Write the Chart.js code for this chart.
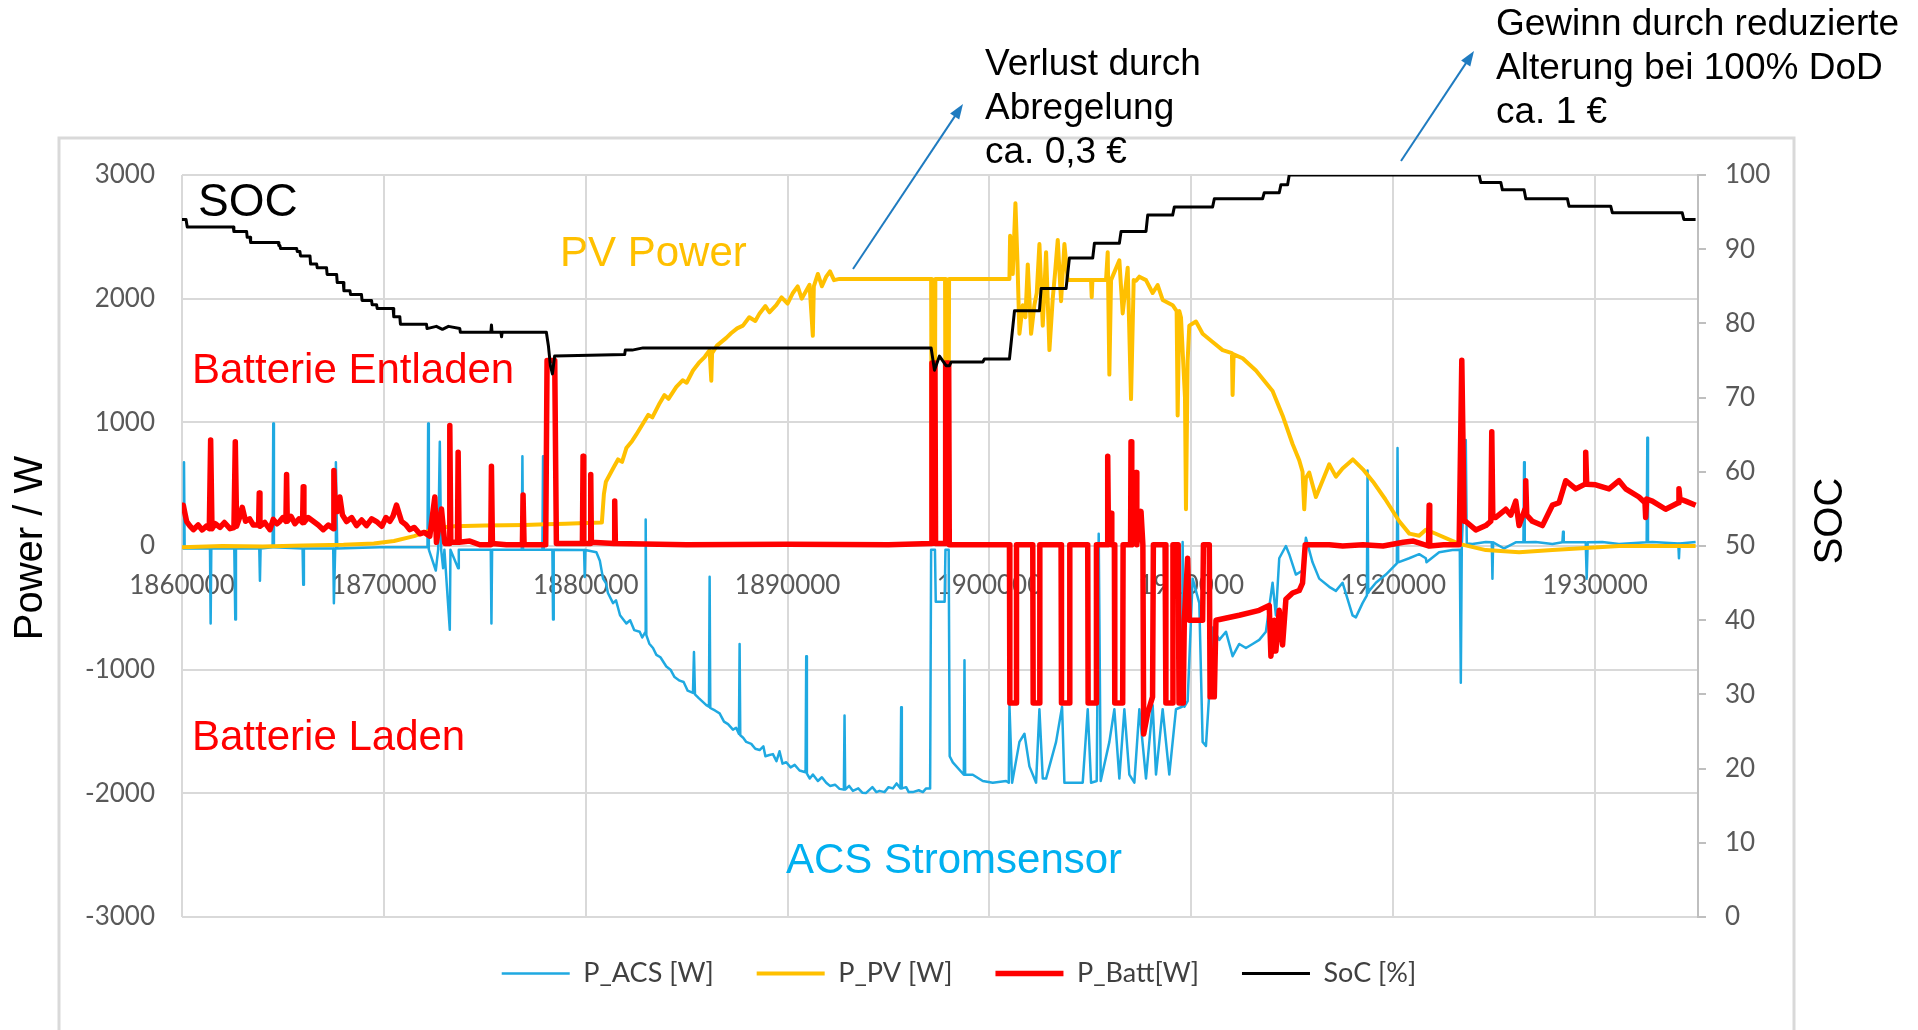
<!DOCTYPE html>
<html>
<head>
<meta charset="utf-8">
<script src="https://cdn.jsdelivr.net/npm/chart.js@4.4.0/dist/chart.umd.min.js"></script>
<style>
  html, body { margin: 0; padding: 0; background: #fff; }
  canvas { display: block; }
</style>
</head>
<body>
<canvas id="chart" width="1918" height="1030"></canvas>
<script>
// axis ticks
const timeTicks = [1860000, 1870000, 1880000, 1890000, 1900000, 1910000, 1920000, 1930000];
const powerTicks = [-3000, -2000, -1000, 0, 1000, 2000, 3000];
const socTicks = [0, 10, 20, 30, 40, 50, 60, 70, 80, 90, 100];

// [time, W]
const acsPoints = [
  [1860000, 0], [1860066, -20], [1860099, 677], [1860132, -20], [1861386, -20], [1861419, -627], [1861452, -20],
  [1862590, -20], [1862640, -594], [1862673, -20], [1863828, -20], [1863861, -281], [1863894, -20],
  [1864488, -10], [1864521, 990], [1864554, -10], [1865973, -20], [1866006, -314], [1866039, -20],
  [1867491, -20], [1867524, -462], [1867590, -20], [1867623, 677], [1867689, -20], [1869801, -10],
  [1872161, -10], [1872194, 990], [1872227, -30], [1872573, -198], [1872689, -30], [1872771, 842], [1872837, -30],
  [1872936, -180], [1873000, -30], [1873266, -677], [1873299, -30], [1873679, -180], [1873712, -30],
  [1875296, -30], [1875329, -627], [1875362, -30], [1876830, -30], [1876863, 726], [1876896, -30],
  [1877853, -30], [1877886, 726], [1877919, -30], [1878348, -30], [1878381, -594], [1878414, -30],
  [1879918, -33], [1879950, -250], [1879983, -33], [1880528, -50], [1880700, -120], [1880858, -264],
  [1881000, -300], [1881100, -380], [1881353, -462], [1881500, -440], [1881700, -560], [1882013, -627],
  [1882200, -600], [1882400, -680], [1882673, -693], [1882800, -740], [1882937, -700], [1882970, 215],
  [1883003, -720], [1883150, -790], [1883333, -825], [1883500, -880], [1883700, -900], [1883993, -974],
  [1884200, -1000], [1884400, -1060], [1884653, -1089], [1884850, -1100], [1885050, -1170], [1885313, -1188],
  [1885362, -858], [1885412, -1200], [1885600, -1230], [1885800, -1260], [1885973, -1287], [1886105, -1300],
  [1886138, -248], [1886171, -1310], [1886400, -1330], [1886633, -1353], [1886850, -1420], [1887050, -1440],
  [1887293, -1485], [1887450, -1470], [1887590, -1520], [1887623, -792], [1887656, -1530], [1887800, -1550],
  [1887953, -1584], [1888200, -1600], [1888400, -1640], [1888613, -1650], [1888800, -1620], [1888900, -1700],
  [1889100, -1690], [1889273, -1683], [1889450, -1740], [1889600, -1660], [1889750, -1760], [1889933, -1749],
  [1890150, -1790], [1890350, -1770], [1890593, -1815], [1890890, -1830], [1890923, -891], [1890956, -1840],
  [1891100, -1880], [1891253, -1848], [1891500, -1900], [1891700, -1870], [1891913, -1914], [1892100, -1940],
  [1892350, -1930], [1892573, -1964], [1892788, -1970], [1892821, -1370], [1892854, -1970], [1893050, -1940],
  [1893233, -1980], [1893500, -1960], [1893700, -1995], [1893893, -1997], [1894200, -1950], [1894400, -1990],
  [1894553, -1980], [1894800, -1990], [1895000, -1950], [1895213, -1960], [1895400, -1920], [1895593, -1960],
  [1895626, -1304], [1895659, -1960], [1895873, -1950], [1896000, -1990], [1896203, -1990], [1896500, -1975],
  [1896700, -1990], [1896863, -1960], [1897061, -1960], [1897110, -30], [1897300, -30], [1897340, -450],
  [1897780, -450], [1897820, -30], [1897980, -30], [1898030, -1700], [1898185, -1750], [1898730, -1850],
  [1898763, -924], [1898796, -1850], [1899175, -1850], [1899670, -1900], [1900165, -1914], [1900825, -1900],
  [1900957, -1914], [1900990, -1287], [1901122, -1914], [1901485, -1584], [1901733, -1518], [1901980, -1782],
  [1902310, -1914], [1902475, -1320], [1902640, -1880], [1902805, -1881], [1903300, -1584], [1903597, -1300],
  [1903713, -1914], [1904125, -1914], [1904620, -1914], [1904868, -1320], [1905033, -1914], [1905313, -1900],
  [1905412, 99], [1905511, -1900], [1905940, -1584], [1906188, -1320], [1906435, -1881], [1906683, -1320],
  [1906930, -1848], [1907178, -1914], [1907425, -1320], [1907755, -1881], [1908085, -1287], [1908250, -1848],
  [1908580, -1320], [1908910, -1848], [1909240, -1320], [1909537, -1300], [1909570, 33], [1909653, -1300],
  [1909818, -1254], [1910065, -264], [1910395, -462], [1910560, -1584], [1910725, -1617], [1910890, -1188],
  [1911055, -660], [1911385, -759], [1911715, -693], [1912045, -891], [1912375, -792], [1912705, -825],
  [1913035, -792], [1913365, -759], [1913695, -693], [1914025, -297], [1914190, -561], [1914355, -99],
  [1914685, 0], [1914850, -66], [1915180, -231], [1915510, -198], [1915675, 66], [1916005, -132],
  [1916335, -264], [1916832, -330], [1917162, -363], [1917492, -297], [1917987, -561], [1918152, -577],
  [1918482, -462], [1918697, -400], [1918730, 610], [1918763, -380], [1918812, -363], [1919142, -297],
  [1919637, -231], [1920182, -140], [1920215, 792], [1920248, -132], [1920792, -99], [1921287, -66],
  [1921617, -99], [1921650, -132], [1922277, -50], [1922937, -33], [1923300, -30], [1923350, -1106],
  [1923399, 0], [1923597, 858], [1923646, 20], [1923927, 17], [1924587, 33], [1924884, 30], [1924917, -264],
  [1924950, 30], [1925495, -20], [1926072, 30], [1926452, 30], [1926485, 677], [1926518, 30], [1927062, 33],
  [1927887, 17], [1928382, 30], [1928415, 116], [1928448, 30], [1929537, 30], [1929587, -264], [1929636, 30],
  [1930362, 33], [1931187, 17], [1932557, 30], [1932590, 875], [1932623, 30], [1932837, 33], [1934124, 20],
  [1934157, -99], [1934190, 20], [1934982, 33]
];

const pvPoints = [
  [1860000, -10], [1862000, 0], [1864000, -5], [1866000, 5], [1868000, 10], [1869500, 20], [1870500, 40],
  [1871500, 80], [1872200, 120], [1872800, 150], [1873500, 160], [1875000, 165], [1877000, 170], [1878000, 175],
  [1879000, 180], [1880000, 185], [1880800, 190], [1880900, 420], [1881000, 520], [1881353, 627], [1881600, 700],
  [1881800, 680], [1882013, 792], [1882300, 850], [1882500, 900], [1882838, 990], [1883100, 1060], [1883300, 1040],
  [1883663, 1155], [1883900, 1220], [1884100, 1190], [1884488, 1287], [1884800, 1340], [1885000, 1320],
  [1885313, 1419], [1885600, 1480], [1885900, 1530], [1886138, 1584], [1886220, 1337], [1886260, 1560],
  [1886500, 1620], [1886963, 1683], [1887200, 1720], [1887500, 1760], [1887788, 1782], [1888100, 1850],
  [1888400, 1820], [1888613, 1881], [1888900, 1940], [1889100, 1890], [1889438, 1947], [1889700, 2010],
  [1890000, 1960], [1890263, 2046], [1890500, 2100], [1890700, 2000], [1891088, 2112], [1891250, 1700],
  [1891300, 2100], [1891500, 2200], [1891700, 2100], [1891913, 2178], [1892100, 2220], [1892300, 2150],
  [1892573, 2160], [1897110, 2160], [1897150, 100], [1897280, 100], [1897320, 2160], [1897800, 2160],
  [1897840, 100], [1897960, 100], [1898000, 2160], [1900990, 2160], [1901023, 2508], [1901155, 2200],
  [1901287, 2772], [1901386, 2300], [1901485, 1716], [1901650, 1947], [1901782, 1850], [1901898, 2277],
  [1902063, 1716], [1902228, 1950], [1902343, 2046], [1902475, 2442], [1902640, 1782], [1902805, 2376],
  [1902970, 1584], [1903135, 2000], [1903251, 2211], [1903383, 2475], [1903548, 1980], [1903713, 2442],
  [1903878, 2150], [1905033, 2150], [1905066, 2013], [1905100, 2150], [1905775, 2150], [1905858, 2376],
  [1905940, 1386], [1906023, 2150], [1906435, 2310], [1906600, 1881], [1906848, 2250], [1907013, 1188],
  [1907145, 2150], [1907260, 2145], [1907425, 2178], [1907755, 2150], [1908085, 2046], [1908333, 2110],
  [1908580, 1990], [1909075, 1947], [1909273, 1900], [1909323, 1056], [1909405, 1900], [1909488, 1848],
  [1909686, 1200], [1909735, 297], [1909818, 1500], [1909900, 1782], [1910230, 1815], [1910560, 1716],
  [1911055, 1650], [1911550, 1584], [1912012, 1560], [1912045, 1221], [1912095, 1550], [1912540, 1518],
  [1913200, 1419], [1914025, 1254], [1914520, 1056], [1915015, 825], [1915345, 693], [1915510, 600],
  [1915593, 297], [1915675, 550], [1915840, 594], [1916170, 396], [1916500, 528], [1916832, 660],
  [1917162, 561], [1917492, 627], [1918000, 700], [1918500, 620], [1919000, 520], [1919600, 380],
  [1920300, 200], [1920800, 100], [1921287, 83], [1921617, 132], [1922112, 99], [1923267, 17],
  [1924587, -33], [1926237, -50], [1927887, -33], [1929537, -17], [1931187, 0], [1934982, 0]
];

const battPoints = [
  [1860000, 330], [1860066, 330], [1860150, 260], [1860231, 198], [1860400, 160], [1860561, 132], [1860800, 170],
  [1861000, 130], [1861200, 160], [1861353, 140], [1861419, 858], [1861485, 140], [1861650, 180], [1861881, 150],
  [1862100, 190], [1862376, 140], [1862574, 149], [1862640, 842], [1862706, 160], [1862850, 230], [1862986, 313],
  [1863150, 200], [1863350, 220], [1863531, 170], [1863795, 170], [1863828, 429], [1863861, 160], [1864100, 190],
  [1864356, 132], [1864521, 215], [1864700, 180], [1864851, 200], [1865000, 230], [1865148, 200], [1865181, 578],
  [1865214, 200], [1865400, 240], [1865594, 180], [1865800, 220], [1865973, 190], [1866006, 479], [1866039, 190],
  [1866250, 230], [1866501, 200], [1866750, 170], [1866996, 132], [1867250, 170], [1867491, 140], [1867524, 611],
  [1867590, 300], [1867700, 280], [1867821, 396], [1867950, 250], [1868151, 198], [1868400, 230], [1868646, 165],
  [1868900, 210], [1869141, 165], [1869400, 220], [1869636, 198], [1869900, 160], [1870100, 230], [1870296, 200],
  [1870450, 240], [1870626, 330], [1870874, 200], [1871100, 170], [1871286, 132], [1871500, 150], [1871781, 99],
  [1872000, 110], [1872276, 80], [1872524, 396], [1872606, 30], [1872854, 300], [1873019, 20], [1873233, 20],
  [1873266, 974], [1873316, 30], [1873646, 30], [1873679, 759], [1873729, 30], [1874256, 40], [1874751, 10],
  [1875296, 10], [1875329, 644], [1875378, 20], [1876071, 10], [1876863, 10], [1876896, 413], [1876946, 10],
  [1878018, 10], [1878084, 1500], [1878464, 1500], [1878546, 20], [1879835, 20], [1879868, 726], [1879901, 20],
  [1880215, 20], [1880248, 578], [1880281, 30], [1881403, 20], [1881436, 363], [1881469, 20], [1885000, 10],
  [1890000, 15], [1895000, 10], [1897110, 20], [1897150, 1480], [1897300, 1480], [1897330, 20], [1897800, 20],
  [1897830, 1480], [1897980, 1480], [1898010, 10], [1900990, 10], [1901010, -1270], [1901320, -1270],
  [1901340, 10], [1902145, 10], [1902165, -1270], [1902475, -1270], [1902495, 10], [1903548, 10],
  [1903568, -1270], [1903960, -1270], [1903980, 10], [1904868, 10], [1904888, -1270], [1905280, -1270],
  [1905300, 10], [1905830, 10], [1905858, 726], [1905900, 10], [1906023, 264], [1906060, 10], [1906188, 10],
  [1906208, -1270], [1906600, -1270], [1906620, 10], [1906990, 10], [1907013, 842], [1907050, 10],
  [1907260, 594], [1907300, 10], [1907508, 280], [1907600, 10], [1907640, -1520], [1907840, -1350],
  [1908080, -1220], [1908120, 10], [1908700, 10], [1908740, -1270], [1909050, -1270], [1909090, 10],
  [1909350, 10], [1909390, -1270], [1909600, -1270], [1909653, -600], [1909818, -100], [1909900, -600],
  [1910560, -600], [1910600, 10], [1910890, 10], [1910930, -1220], [1911138, -1220], [1911220, -600],
  [1912375, -560], [1913365, -520], [1913860, -480], [1913943, -891], [1914108, -600], [1914190, -850],
  [1914355, -520], [1914520, -800], [1914685, -430], [1915015, -380], [1915345, -360], [1915510, -300],
  [1915642, 10], [1916830, 10], [1917500, 0], [1918500, 10], [1919500, 0], [1920500, 30], [1921000, 40],
  [1921750, 0], [1921782, 330], [1921810, 0], [1922500, 10], [1923267, 10], [1923399, 1502], [1923515, 200],
  [1923597, 198], [1924092, 130], [1924587, 165], [1924836, 200], [1924884, 924], [1924935, 230],
  [1925082, 231], [1925577, 297], [1925825, 250], [1926072, 363], [1926237, 165], [1926534, 300],
  [1926567, 528], [1926616, 250], [1926897, 200], [1927392, 165], [1927887, 330], [1928217, 350],
  [1928547, 528], [1929042, 462], [1929504, 500], [1929537, 759], [1929587, 500], [1930032, 495],
  [1930692, 462], [1931187, 528], [1931517, 462], [1932177, 396], [1932474, 350], [1932507, 231],
  [1932557, 380], [1932837, 363], [1933497, 297], [1934124, 350], [1934157, 462], [1934206, 380],
  [1934487, 363], [1934982, 330]
];

// [time, %]
const socPoints = [
  [1860000, 94.0], [1860200, 94.0], [1860260, 93.0], [1862540, 93.0], [1862570, 92.4], [1863200, 92.4],
  [1863230, 91.6], [1863370, 91.6], [1863400, 90.9], [1864770, 90.9], [1864800, 90.5], [1864850, 90.5],
  [1864880, 90.1], [1865680, 90.1], [1865710, 89.7], [1865840, 89.7], [1865870, 89.1], [1866340, 89.1],
  [1866370, 88.0], [1866670, 88.0], [1866700, 87.5], [1867160, 87.5], [1867190, 86.6], [1867660, 86.6],
  [1867690, 85.5], [1867990, 85.5], [1868020, 84.4], [1868320, 84.4], [1868350, 83.9], [1868890, 83.9],
  [1868920, 83.1], [1869390, 83.1], [1869420, 82.5], [1869640, 82.5], [1869670, 82.0], [1870460, 82.0],
  [1870490, 80.9], [1870790, 80.9], [1870820, 79.9], [1872110, 79.9], [1872140, 79.3], [1872600, 79.6],
  [1872900, 79.2], [1873200, 79.6], [1873760, 79.3], [1873790, 78.8], [1875300, 78.8], [1875330, 79.8],
  [1875360, 78.8], [1875800, 78.8], [1875830, 78.2], [1875860, 78.8], [1878050, 78.8], [1878150, 77.0],
  [1878250, 74.3], [1878350, 73.2], [1878460, 75.6], [1881930, 75.8], [1881960, 76.4], [1882300, 76.4],
  [1882838, 76.7], [1897110, 76.7], [1897276, 73.7], [1897523, 75.6], [1897853, 74.3], [1898020, 74.3],
  [1898100, 74.8], [1899670, 74.8], [1899750, 75.2], [1900990, 75.2], [1901240, 81.7], [1902475, 81.7],
  [1902560, 84.7], [1903795, 84.7], [1903960, 88.8], [1905115, 88.8], [1905200, 90.8], [1906435, 90.8],
  [1906520, 92.4], [1907755, 92.4], [1907840, 94.6], [1909075, 94.6], [1909160, 95.7], [1911055, 95.7],
  [1911140, 96.8], [1913530, 96.8], [1913610, 97.6], [1914355, 97.6], [1914440, 98.7], [1914770, 98.7],
  [1914850, 100], [1924257, 100], [1924340, 99.0], [1925330, 99.0], [1925410, 98.0], [1926485, 98.0],
  [1926570, 96.8], [1928630, 96.8], [1928710, 95.8], [1930775, 95.8], [1930860, 94.9], [1934320, 94.9],
  [1934400, 94.0], [1934980, 94.0]
];

const toXY = (points) => points.map(([x, y]) => ({ x, y }));
const tickFont = { family: 'Lato', size: 26 };
const grey = '#595959';

const annotations = {
  id: 'annotations',
  beforeDraw(chart) {
    const ctx = chart.ctx;
    ctx.save();
    ctx.fillStyle = '#fff';
    ctx.fillRect(0, 0, chart.width, chart.height);
    ctx.strokeStyle = '#D9D9D9';
    ctx.lineWidth = 3;
    ctx.strokeRect(59, 138, 1735, 960);
    ctx.restore();
  },
  afterDraw(chart) {
    const ctx = chart.ctx;
    const text = (str, x, y, size, color) => {
      ctx.font = size + 'px "Liberation Sans", Arial, sans-serif';
      ctx.fillStyle = color;
      ctx.fillText(str, x, y);
    };
    ctx.save();
    ctx.textBaseline = 'middle';
    ctx.textAlign = 'left';

    text('SOC', 198, 203, 46, '#000');
    text('PV Power', 560, 254, 42, '#FFC000');
    text('Batterie Entladen', 192, 371, 42, '#FF0000');
    text('Batterie Laden', 192, 738, 42, '#FF0000');
    text('ACS Stromsensor', 786, 861, 42, '#00B0F0');

    text('Verlust durch', 985, 65, 37, '#000');
    text('Abregelung', 985, 109, 37, '#000');
    text('ca. 0,3 €', 985, 153, 37, '#000');
    text('Gewinn durch reduzierte', 1496, 25, 37, '#000');
    text('Alterung bei 100% DoD', 1496, 69, 37, '#000');
    text('ca. 1 €', 1496, 113, 37, '#000');

    // axis titles
    ctx.textAlign = 'center';
    ctx.save();
    ctx.translate(31, 548);
    ctx.rotate(-Math.PI / 2);
    text('Power / W', 0, 0, 40, '#000');
    ctx.restore();
    ctx.save();
    ctx.translate(1831, 521);
    ctx.rotate(-Math.PI / 2);
    text('SOC', 0, 0, 40, '#000');
    ctx.restore();

    // arrows
    const arrow = (x1, y1, x2, y2) => {
      const a = Math.atan2(y2 - y1, x2 - x1);
      ctx.strokeStyle = '#1F7BC0';
      ctx.fillStyle = '#1F7BC0';
      ctx.lineWidth = 2;
      ctx.beginPath();
      ctx.moveTo(x1, y1);
      ctx.lineTo(x2 - 10 * Math.cos(a), y2 - 10 * Math.sin(a));
      ctx.stroke();
      ctx.beginPath();
      ctx.moveTo(x2, y2);
      ctx.lineTo(x2 - 16 * Math.cos(a - 0.35), y2 - 16 * Math.sin(a - 0.35));
      ctx.lineTo(x2 - 16 * Math.cos(a + 0.35), y2 - 16 * Math.sin(a + 0.35));
      ctx.closePath();
      ctx.fill();
    };
    arrow(853, 269, 963, 104);
    arrow(1401, 161, 1474, 51);
    ctx.restore();
  }
};

new Chart(document.getElementById('chart').getContext('2d'), {
  type: 'line',
  data: {
    datasets: [{
      label: 'P_ACS [W]',
      data: toXY(acsPoints),
      yAxisID: 'y',
      borderColor: '#1FA9E1',
      borderWidth: 2.5,
      order: 4
    }, {
      label: 'P_PV [W]',
      data: toXY(pvPoints),
      yAxisID: 'y',
      borderColor: '#FFC000',
      borderWidth: 4,
      order: 3
    }, {
      label: 'P_Batt[W]',
      data: toXY(battPoints),
      yAxisID: 'y',
      borderColor: '#FF0000',
      borderWidth: 5.5,
      order: 2
    }, {
      label: 'SoC [%]',
      data: toXY(socPoints),
      yAxisID: 'y1',
      borderColor: '#000000',
      borderWidth: 3,
      order: 1
    }]
  },
  options: {
    responsive: false,
    animation: false,
    devicePixelRatio: 1,
    layout: { padding: { top: 175, bottom: 33, left: 0, right: 0 } },
    elements: {
      point: { radius: 0 },
      line: { tension: 0, borderJoinStyle: 'round', fill: false }
    },
    scales: {
      x: {
        type: 'linear',
        min: 1860000,
        max: 1935100,
        position: { y: 0 },
        afterBuildTicks: (scale) => { scale.ticks = timeTicks.map(v => ({ value: v })); },
        ticks: { font: tickFont, color: grey, padding: 24, maxRotation: 0, autoSkip: false, callback: v => String(v) },
        grid: { color: '#D9D9D9', lineWidth: 2, drawTicks: false },
        border: { display: false }
      },
      y: {
        position: 'left',
        min: -3000,
        max: 3000,
        afterBuildTicks: (scale) => { scale.ticks = powerTicks.map(v => ({ value: v })); },
        afterFit: (scale) => { scale.width = 182; },
        ticks: { font: tickFont, color: grey, padding: 27, callback: v => String(v) },
        grid: { color: '#D9D9D9', lineWidth: 2, drawTicks: false },
        border: { display: false }
      },
      y1: {
        position: 'right',
        min: 0,
        max: 100,
        afterBuildTicks: (scale) => { scale.ticks = socTicks.map(v => ({ value: v })); },
        afterFit: (scale) => { scale.width = 220; },
        ticks: { font: tickFont, color: grey, padding: 19, callback: v => String(v) },
        grid: { drawOnChartArea: false, color: '#BFBFBF', lineWidth: 2, tickLength: 8 },
        border: { display: true, color: '#BFBFBF', width: 2 }
      }
    },
    plugins: {
      legend: {
        position: 'bottom',
        labels: {
          usePointStyle: true,
          pointStyle: 'line',
          pointStyleWidth: 68,
          font: { family: 'Lato', size: 27 },
          color: '#404040',
          padding: 43,
          sort: (a, b) => a.datasetIndex - b.datasetIndex
        }
      },
      tooltip: { enabled: false }
    }
  },
  plugins: [annotations]
});
</script>
</body>
</html>
